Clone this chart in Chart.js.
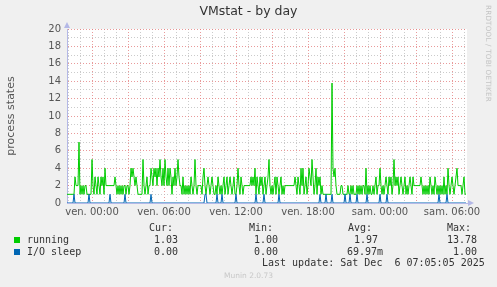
<!DOCTYPE html>
<html>
<head>
<meta charset="utf-8">
<script src="https://cdn.jsdelivr.net/npm/chart.js@4/dist/chart.umd.min.js"></script>
<style>
  html, body { margin: 0; padding: 0; background: #f0f0f0; }
  #wrap { position: relative; width: 497px; height: 287px; overflow: hidden; background: #f0f0f0; }
  #c { position: absolute; left: 0; top: 0; }
  .t { position: absolute; white-space: pre; font-family: "DejaVu Sans Mono", monospace; font-size: 10px; line-height: 12px; color: #333; }
  .r { text-align: right; }
  .sq { position: absolute; width: 6px; height: 6px; }
  #title { position: absolute; left: 0; width: 497px; top: 4px; text-align: center; font-family: "DejaVu Sans", sans-serif; font-size: 12.5px; line-height: 14px; color: #333; }
  #rrd { position: absolute; left: 484px; top: 5px; writing-mode: vertical-rl; font-family: "DejaVu Sans", sans-serif; font-size: 7.2px; color: #c4c4c4; white-space: nowrap; letter-spacing: 0.2px; }
  #munin { position: absolute; left: 0; width: 497px; top: 271px; text-align: center; font-family: "DejaVu Sans", sans-serif; font-size: 7.5px; line-height: 10px; color: #c8c8c8; }
</style>
</head>
<body>
<div id="wrap">
  <canvas id="c" width="497" height="287"></canvas>
  <div id="title">VMstat - by day</div>
  <div id="rrd">RRDTOOL / TOBI OETIKER</div>
  <div class="t" style="left:149px;top:222px;">Cur:</div>
  <div class="t" style="left:249px;top:222px;">Min:</div>
  <div class="t" style="left:348px;top:222px;">Avg:</div>
  <div class="t" style="left:447px;top:222px;">Max:</div>
  <div class="sq" style="left:14px;top:237px;background:#00cc00;"></div>
  <div class="sq" style="left:14px;top:249px;background:#0066b3;"></div>
  <div class="t" style="left:27px;top:234px;">running</div>
  <div class="t" style="left:27px;top:246px;">I/O sleep</div>
  <div class="t r" style="left:100px;width:78px;top:234px;">1.03</div>
  <div class="t r" style="left:200px;width:78px;top:234px;">1.00</div>
  <div class="t r" style="left:300px;width:78px;top:234px;">1.97</div>
  <div class="t r" style="left:399px;width:78px;top:234px;">13.78</div>
  <div class="t r" style="left:100px;width:78px;top:246px;">0.00</div>
  <div class="t r" style="left:200px;width:78px;top:246px;">0.00</div>
  <div class="t r" style="left:305px;width:78px;top:246px;">69.97m</div>
  <div class="t r" style="left:399px;width:78px;top:246px;">1.00</div>
  <div class="t" style="left:262px;top:257px;">Last update: Sat Dec  6 07:05:05 2025</div>
  <div id="munin">Munin 2.0.73</div>
</div>
<script>
// ---- data (5-minute samples, Thu 21:55 -> Sat 07:10) ----
const runningVals = [
  1,1,1,1,1,1,1,1,3,2,2,2,7,1,2,1,2,1,2,2,
  1,1,1,1,1,5,2,1,3,2,1,3,2,1,3,2,3,1,4,2,
  2,2,2,2,2,2,2,2,3,2,1,2,1,2,1,2,1,2,2,1,
  2,2,1,2,4,3,4,3,2,3,2,1,1,1,1,1,5,2,1,2,
  3,1,2,2,4,3,2,4,3,4,2,4,3,5,3,2,4,2,5,3,
  2,4,2,4,3,1,3,2,4,2,3,5,3,2,2,1,3,1,2,1,
  2,1,2,1,3,2,1,2,5,2,1,2,2,2,2,1,3,4,2,1,
  2,3,2,1,2,3,2,1,1,2,1,3,2,1,2,1,2,3,1,2,
  3,1,2,3,2,1,2,3,1,1,2,4,2,1,3,2,1,2,2,2,
  2,2,2,2,3,2,3,2,4,1,3,2,1,3,2,3,1,2,3,1,
  2,3,5,2,1,2,1,2,3,1,3,2,1,2,3,1,2,1,2,2,
  2,2,2,2,2,2,2,2,3,2,1,3,2,1,4,2,4,1,2,3,
  1,2,4,3,2,5,3,1,2,4,1,3,2,3,1,2,1,1,1,1,
  1,1,1,1,1,13.78,4,3,4,2,1,1,1,1,2,2,1,1,1,1,
  1,2,1,1,2,1,2,1,1,1,2,1,2,1,2,1,2,2,1,4,
  1,2,1,2,1,1,2,1,2,3,1,2,2,4,2,1,2,1,2,3,
  2,1,3,2,3,1,2,5,2,3,2,3,1,2,3,2,1,2,3,1,
  2,1,2,3,2,1,3,2,2,2,2,2,2,2,3,2,1,2,1,2,
  1,2,1,3,2,1,2,1,3,2,1,2,1,2,1,2,1,3,1,2,
  1,4,2,1,2,3,2,1,2,3,4,2,2,2,2,1,2,3,1,1.03
];
const ioSleepVals = [
  0,0,0,0,0,0,0,1,0,0,0,0,0,0,0,0,0,0,0,0,
  0,0,1,0,0,0,0,0,0,0,0,0,0,0,0,0,0,0,0,0,
  0,0,0,1,0,0,0,0,0,0,0,0,0,0,0,0,0,0,1,0,
  0,0,0,0,0,0,0,0,0,0,0,0,0,0,0,0,0,0,0,0,
  0,0,0,0,1,0,0,0,0,0,0,0,0,0,0,0,0,0,0,0,
  0,0,0,0,0,0,0,0,0,0,0,0,0,0,0,0,0,0,0,0,
  0,0,0,0,0,0,0,0,0,0,0,0,0,0,0,0,0,0,1,1,
  0,0,0,0,0,0,0,0,0,0,1,0,0,0,0,1,0,0,0,0,
  0,0,0,0,0,0,0,0,0,1,0,0,0,0,0,0,0,0,0,0,
  0,0,0,0,0,0,0,0,0,1,0,0,0,0,0,0,0,1,0,0,
  0,0,0,0,0,0,0,0,0,0,0,0,1,0,0,0,0,0,0,0,
  0,0,0,0,0,0,0,0,0,0,0,0,0,0,0,0,0,0,0,0,
  0,0,0,0,0,0,0,0,0,0,0,0,0,1,0,0,0,0,0,1,
  0,0,0,0,0,1,0,0,0,0,0,0,0,0,0,0,0,0,1,0,
  0,0,0,1,0,0,0,0,0,0,1,0,0,0,0,0,0,0,0,0,
  1,0,0,0,0,0,0,0,0,0,0,0,0,1,0,0,0,0,0,0,
  1,0,0,0,0,0,0,0,0,0,0,0,0,0,0,0,0,0,0,0,
  0,0,0,0,0,0,0,0,0,0,0,0,0,0,0,0,0,0,0,0,
  0,0,0,0,0,0,0,0,0,0,0,0,1,0,0,0,0,0,0,0,
  1,0,0,0,0,0,0,0,0,0,0,0,0,0,0,0,0,0,0,0
];
const xTickHours = [0, 6, 12, 18, 24, 30];
const xTickLabels = ["ven. 00:00", "ven. 06:00", "ven. 12:00", "ven. 18:00", "sam. 00:00", "sam. 06:00"];
const startHour = -25 / 12;   // first sample, hours relative to Fri 00:00
const stepHours = 5 / 60;     // 5-minute samples

// ---- build library data ----
const toPoints = arr => arr.map((v, i) => ({ x: startHour + i * stepHours, y: v }));
const xMin = startHour;
const xMax = startHour + runningVals.length * stepHours;

const MAJOR = "rgba(225,120,120,0.75)";
const MINOR = "rgba(190,190,190,0.8)";
const AXIS = "#b4b8e6";

const bgPlugin = {
  id: "bg",
  beforeDraw(chart) {
    const { ctx, chartArea: a } = chart;
    ctx.save();
    ctx.fillStyle = "#ffffff";
    ctx.fillRect(a.left, a.top, a.right - a.left, a.bottom - a.top);
    ctx.restore();
  },
  afterDraw(chart) {
    const { ctx, chartArea: a } = chart;
    ctx.save();
    ctx.fillStyle = AXIS;
    ctx.beginPath();
    ctx.moveTo(a.left - 3, a.top - 1);
    ctx.lineTo(a.left + 3, a.top - 1);
    ctx.lineTo(a.left, a.top - 7);
    ctx.closePath();
    ctx.fill();
    ctx.beginPath();
    ctx.moveTo(a.right + 1, a.bottom - 3);
    ctx.lineTo(a.right + 1, a.bottom + 3);
    ctx.lineTo(a.right + 7, a.bottom);
    ctx.closePath();
    ctx.fill();
    ctx.restore();
  }
};

new Chart(document.getElementById("c"), {
  type: "line",
  data: {
    datasets: [
      { label: "running", data: toPoints(runningVals), borderColor: "#00cc00", borderWidth: 1, pointRadius: 0, tension: 0, fill: false, order: 1 },
      { label: "I/O sleep", data: toPoints(ioSleepVals), borderColor: "#0066b3", borderWidth: 1, pointRadius: 0, tension: 0, fill: false, order: 0 }
    ]
  },
  options: {
    responsive: false,
    devicePixelRatio: 1,
    animation: false,
    events: [],
    layout: { padding: { left: 0, top: 29, right: 30, bottom: 64 } },
    plugins: { legend: { display: false }, tooltip: { enabled: false }, title: { display: false } },
    scales: {
      x: {
        type: "linear",
        min: xMin,
        max: xMax,
        afterBuildTicks(scale) {
          const t = [];
          for (let h = Math.ceil(xMin); h <= Math.floor(xMax); h++) t.push({ value: h });
          scale.ticks = t;
        },
        afterFit(scale) { scale.height = 20; },
        ticks: {
          autoSkip: false,
          maxRotation: 0,
          padding: 3,
          color: "#555",
          font: { family: "DejaVu Sans", size: 10 },
          callback(v) { const k = xTickHours.indexOf(v); return k >= 0 ? xTickLabels[k] : ""; }
        },
        grid: {
          drawTicks: false,
          lineWidth: 1,
          color: ctx => (ctx.tick && ctx.tick.value % 3 === 0) ? MAJOR : MINOR
        },
        border: { display: true, color: AXIS, width: 1, dash: [1, 2] }
      },
      y: {
        type: "linear",
        min: 0,
        max: 20,
        afterBuildTicks(scale) {
          const t = [];
          for (let v = 0; v <= 20; v++) t.push({ value: v });
          scale.ticks = t;
        },
        afterFit(scale) { scale.width = 67; },
        ticks: {
          autoSkip: false,
          padding: 6,
          color: "#555",
          font: { family: "DejaVu Sans", size: 10 },
          callback(v) { return v % 2 === 0 ? String(v) : ""; }
        },
        grid: {
          drawTicks: false,
          lineWidth: 1,
          color: ctx => (ctx.tick && ctx.tick.value % 2 === 0) ? MAJOR : MINOR
        },
        border: { display: true, color: AXIS, width: 1, dash: [1, 2] },
        title: {
          display: true,
          text: "process states",
          color: "#555",
          font: { family: "DejaVu Sans", size: 11 },
          padding: { top: 5, bottom: 0 }
        }
      }
    }
  },
  plugins: [bgPlugin]
});
</script>
</body>
</html>
